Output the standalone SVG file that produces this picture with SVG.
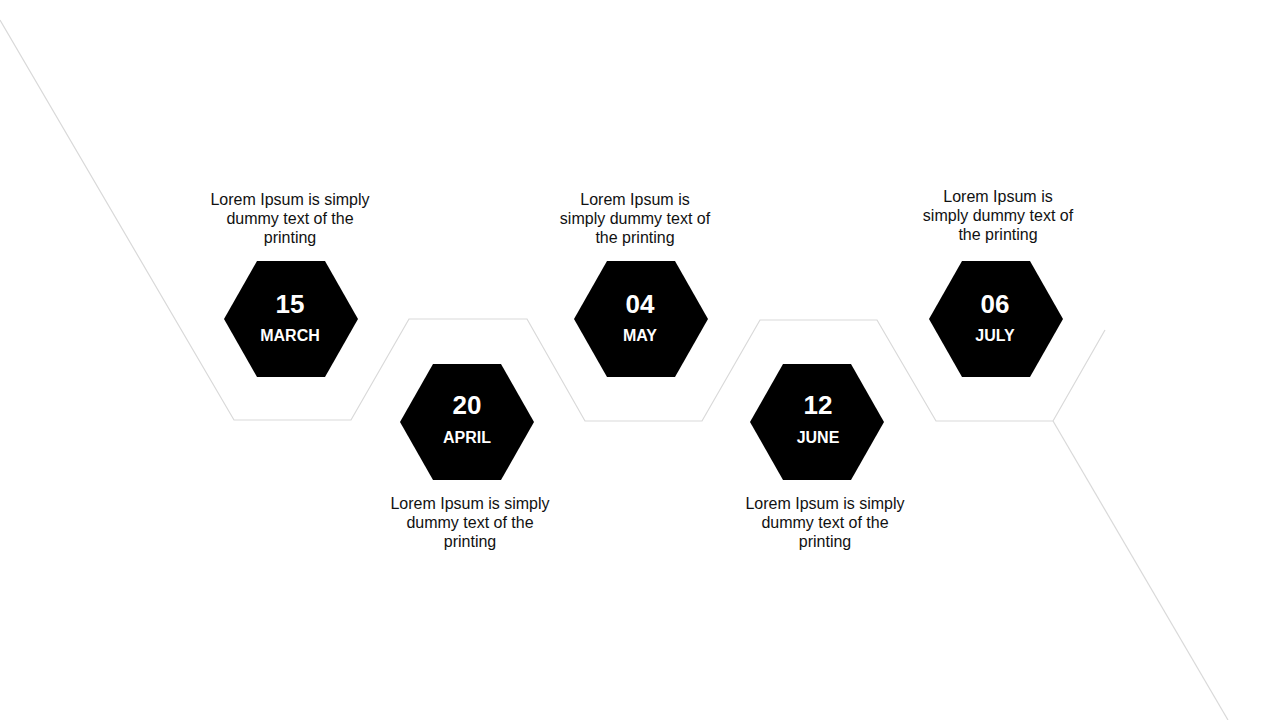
<svg xmlns="http://www.w3.org/2000/svg" xmlns:xlink="http://www.w3.org/1999/xlink" width="1280" height="720" viewBox="0 0 1280 720">
<style>
.conn{fill:none;stroke:#d9d9d9;stroke-width:1.2}
.hex{fill:#000}
.num{font-family:"Liberation Sans",Arial,sans-serif;font-weight:bold;font-size:26px;fill:#fff;text-anchor:middle}
.mon{font-family:"Liberation Sans",Arial,sans-serif;font-weight:bold;font-size:16px;fill:#fff;text-anchor:middle}
.desc{font-family:"Liberation Sans",Arial,sans-serif;font-size:16px;fill:#111;text-anchor:middle}
</style>
<defs>
<polygon id="hexshape" points="33,0 101,0 134,58 101,116 33,116 0,58"/>
</defs>
<rect width="1280" height="720" fill="#fff"/>
<g id="connectors">
<polyline class="conn" points="0,20 234,420 351,420 409,319 527,319 585,421 702,421 760,320 877,320 936,421 1053,421 1105,330"/>
<line class="conn" x1="1053" y1="421" x2="1228" y2="720"/>
</g>
<g id="node-march">
<use xlink:href="#hexshape" class="hex" x="224" y="261"/>
<text class="num" x="290" y="313">15</text>
<text class="mon" x="290" y="341">MARCH</text>
<text class="desc" x="290" y="205">Lorem Ipsum is simply</text>
<text class="desc" x="290" y="224">dummy text of the</text>
<text class="desc" x="290" y="243">printing</text>
</g>
<g id="node-april">
<use xlink:href="#hexshape" class="hex" x="400" y="364"/>
<text class="num" x="467" y="414">20</text>
<text class="mon" x="467" y="443">APRIL</text>
<text class="desc" x="470" y="509">Lorem Ipsum is simply</text>
<text class="desc" x="470" y="528">dummy text of the</text>
<text class="desc" x="470" y="547">printing</text>
</g>
<g id="node-may">
<use xlink:href="#hexshape" class="hex" x="574" y="261"/>
<text class="num" x="640" y="313">04</text>
<text class="mon" x="640" y="341">MAY</text>
<text class="desc" x="635" y="205">Lorem Ipsum is</text>
<text class="desc" x="635" y="224">simply dummy text of</text>
<text class="desc" x="635" y="243">the printing</text>
</g>
<g id="node-june">
<use xlink:href="#hexshape" class="hex" x="750" y="364"/>
<text class="num" x="818" y="414">12</text>
<text class="mon" x="818" y="443">JUNE</text>
<text class="desc" x="825" y="509">Lorem Ipsum is simply</text>
<text class="desc" x="825" y="528">dummy text of the</text>
<text class="desc" x="825" y="547">printing</text>
</g>
<g id="node-july">
<use xlink:href="#hexshape" class="hex" x="929" y="261"/>
<text class="num" x="995" y="313">06</text>
<text class="mon" x="995" y="341">JULY</text>
<text class="desc" x="998" y="202">Lorem Ipsum is</text>
<text class="desc" x="998" y="221">simply dummy text of</text>
<text class="desc" x="998" y="240">the printing</text>
</g>
</svg>
